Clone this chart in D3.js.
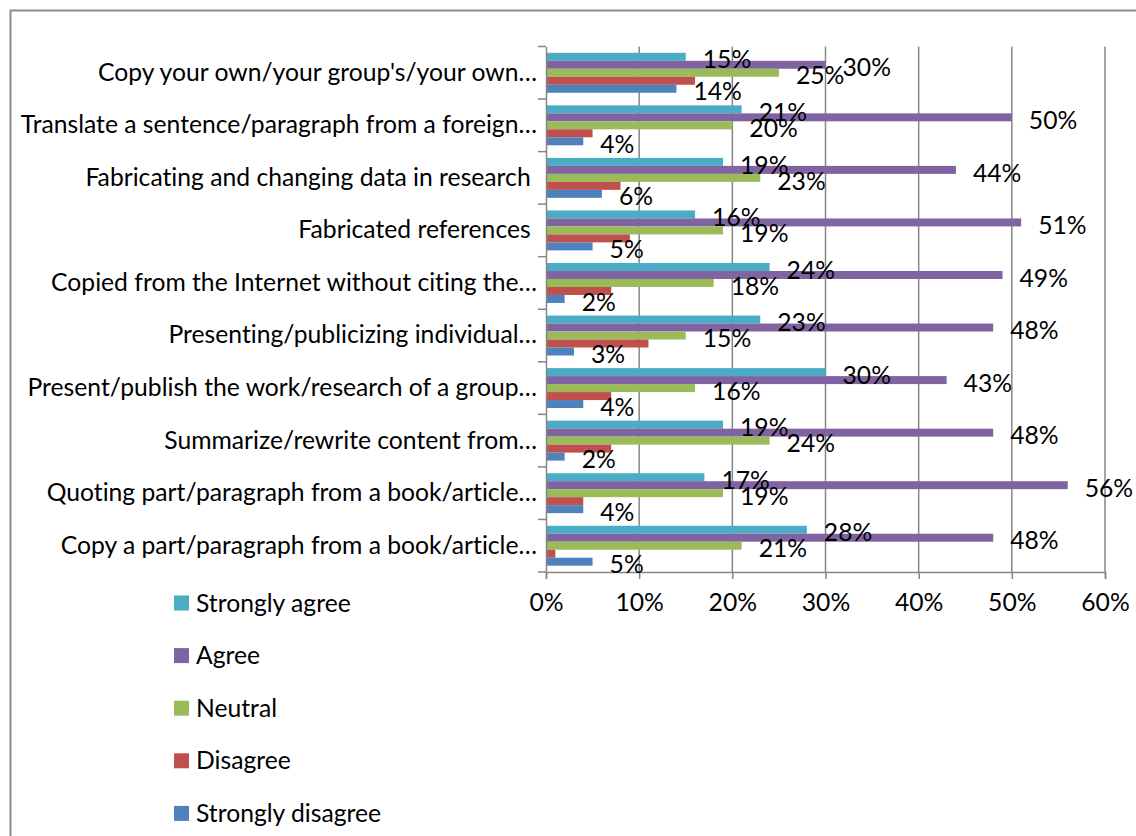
<!DOCTYPE html>
<html>
<head>
<meta charset="utf-8">
<script src="https://cdn.jsdelivr.net/npm/d3@7"></script>
<style>
  html, body { margin: 0; padding: 0; background: #fff; }
  svg { display: block; font-family: Lato, "Open Sans", sans-serif; font-variant-ligatures: none; }
  text { font-variant-ligatures: none; font-feature-settings: "liga" 0, "clig" 0; }
</style>
</head>
<body>
<svg id="chart" width="1136" height="836"></svg>
<script>
const categories = [
  "Copy your own/your group's/your own…",
  "Translate a sentence/paragraph from a foreign…",
  "Fabricating and changing data in research ",
  "Fabricated references ",
  "Copied from the Internet without citing the…",
  "Presenting/publicizing individual…",
  "Present/publish the work/research of a group…",
  "Summarize/rewrite content from…",
  "Quoting part/paragraph from a book/article…",
  "Copy a part/paragraph from a book/article…"
];
const seriesNames = ["Strongly agree", "Agree", "Neutral", "Disagree", "Strongly disagree"];
const seriesColors = ["#4BACC6", "#8064A2", "#9BBB59", "#C0504D", "#4F81BD"];
const stronglyAgree    = [15, 21, 19, 16, 24, 23, 30, 19, 17, 28];
const agree            = [30, 50, 44, 51, 49, 48, 43, 48, 56, 48];
const neutral          = [25, 20, 23, 19, 18, 15, 16, 24, 19, 21];
const disagree         = [16, 5, 8, 9, 7, 11, 7, 7, 4, 1];
const stronglyDisagree = [14, 4, 6, 5, 2, 3, 4, 2, 4, 5];
const seriesShowLabels = [true, true, true, false, true];
const xTicks = [0, 10, 20, 30, 40, 50, 60];

const seriesValues = [stronglyAgree, agree, neutral, disagree, stronglyDisagree];

const svg = d3.select("#chart");
const FONT = 24.7;

// chart border
svg.append("rect")
  .attr("x", 10.5).attr("y", 10.5)
  .attr("width", 1200).attr("height", 900)
  .attr("fill", "none").attr("stroke", "#8c8c8c").attr("stroke-width", 2);

const x = d3.scaleLinear().domain([0, 60]).range([546, 1105]);
const y = d3.scaleBand().domain(categories).range([46.5, 572]).paddingInner(0).paddingOuter(0);
const inner = d3.scaleBand().domain(seriesNames)
  .range([y.bandwidth() * 0.12, y.bandwidth() * 0.88]).padding(0);

const gridColor = "#868686";

// gridlines
svg.append("g").selectAll("line").data(xTicks.slice(1)).join("line")
  .attr("x1", d => x(d)).attr("x2", d => x(d))
  .attr("y1", 46.5).attr("y2", 572)
  .attr("stroke", gridColor).attr("stroke-width", 1.5);

// bars
categories.forEach((cat, ci) => {
  const g = svg.append("g").attr("transform", `translate(0,${y(cat)})`);
  seriesNames.forEach((s, si) => {
    const v = seriesValues[si][ci];
    g.append("rect")
      .attr("x", x(0))
      .attr("y", inner(s))
      .attr("width", x(v) - x(0))
      .attr("height", inner.bandwidth())
      .attr("fill", seriesColors[si]);
  });
});

// x axis
const xAxis = svg.append("g").attr("transform", "translate(0,572)")
  .call(d3.axisBottom(x).tickValues(xTicks).tickFormat(d => d + "%").tickSizeOuter(0).tickSize(7).tickPadding(14));
xAxis.select(".domain").attr("stroke", gridColor).attr("stroke-width", 1.5);
xAxis.selectAll(".tick line").attr("stroke", gridColor).attr("stroke-width", 1.5);
xAxis.selectAll(".tick text").attr("font-size", FONT).attr("fill", "#000")
  .attr("font-family", "Lato, sans-serif");

// y axis
const yAxis = svg.append("g").attr("transform", `translate(${x(0)},0)`)
  .call(d3.axisLeft(y).tickSize(0).tickPadding(10).tickSizeOuter(0));
yAxis.select(".domain").attr("stroke", gridColor).attr("stroke-width", 1.5);
yAxis.selectAll(".tick text").attr("font-size", FONT).attr("fill", "#000")
  .attr("font-family", "Lato, sans-serif").attr("x", -9).attr("dy", "0.32em")
  .style("white-space", "pre");
// y tick marks at band boundaries
const boundaries = categories.map(c => y(c)).concat([y(categories[categories.length - 1]) + y.bandwidth()]);
svg.append("g").selectAll("line").data(boundaries).join("line")
  .attr("x1", x(0) - 8).attr("x2", x(0))
  .attr("y1", d => d).attr("y2", d => d)
  .attr("stroke", gridColor).attr("stroke-width", 1.5);

// data labels
categories.forEach((cat, ci) => {
  seriesNames.forEach((s, si) => {
    if (!seriesShowLabels[si]) return;
    const v = seriesValues[si][ci];
    svg.append("text")
      .attr("x", x(v) + 17)
      .attr("y", y(cat) + inner(s) + inner.bandwidth() / 2 + 3)
      .attr("dy", "0.35em")
      .attr("font-size", FONT)
      .attr("fill", "#000")
      .text(v + "%");
  });
});

// legend
const legend = svg.append("g");
seriesNames.forEach((s, i) => {
  const cy = 603 + i * 52.6;
  legend.append("rect").attr("x", 174).attr("y", cy - 7.5).attr("width", 15).attr("height", 15)
    .attr("fill", seriesColors[i]);
  legend.append("text").attr("x", 196).attr("y", cy).attr("dy", "0.35em")
    .attr("font-size", FONT).attr("fill", "#000").text(s);
});
</script>
</body>
</html>
